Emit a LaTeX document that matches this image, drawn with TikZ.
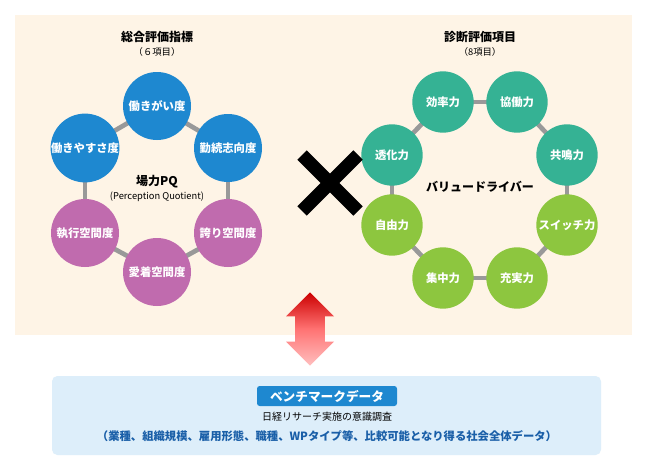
\documentclass[tikz,border=0pt]{standalone}
\usepackage{fontspec}
\setmainfont{Noto Sans CJK JP}
\usetikzlibrary{shapes.arrows}
\definecolor{panel}{HTML}{FEF4E6}
\definecolor{lblue}{HTML}{DDEEFA}
\definecolor{cblue}{HTML}{1E88D0}
\definecolor{cpurp}{HTML}{C06BAE}
\definecolor{cteal}{HTML}{35B294}
\definecolor{cgreen}{HTML}{8DC63F}
\definecolor{dblue}{HTML}{1A5FA8}
\begin{document}
\begin{tikzpicture}[x=0.75pt,y=-0.75pt,
  circ/.style={circle,minimum size=#1,inner sep=0pt,text=white,font=\bfseries\fontsize{8.5}{10}\selectfont},
  big/.style={circ=51pt},
  small/.style={circ=46pt},
  link/.style={draw=gray!80,line width=3.5pt},
  ttl/.style={font=\bfseries\fontsize{9}{10}\selectfont},
  sub/.style={font=\fontsize{7}{8}\selectfont}]
\useasboundingbox (0,0) rectangle (648,467);
\fill[white] (0,0) rectangle (648,467);
\fill[panel] (15,15) rectangle (632,335);
\fill[lblue,rounded corners=4pt] (52,376) rectangle (601,455);
% left positions
\coordinate (a1) at (157,106); \coordinate (a2) at (228,148); \coordinate (a3) at (228,233);
\coordinate (a4) at (157,272); \coordinate (a5) at (85,233); \coordinate (a6) at (85,148);
\foreach \p/\q in {a1/a2,a2/a3,a3/a4,a4/a5,a5/a6,a6/a1} \draw[link] (\p)--(\q);
\node[big,fill=cblue] (n1) at (a1) {働きがい度};
\node[big,fill=cblue] (n2) at (a2) {勤続志向度};
\node[big,fill=cpurp] (n3) at (a3) {誇り空間度};
\node[big,fill=cpurp] (n4) at (a4) {愛着空間度};
\node[big,fill=cpurp] (n5) at (a5) {執行空間度};
\node[big,fill=cblue] (n6) at (a6) {働きやすさ度};
\node[ttl] (t1) at (157,37) {総合評価指標};
\node[sub] (s1) at (157,52) {（６項目）};
\node[ttl] (c1) at (157,182) {場力PQ};
\node[sub] (c2) at (157,197) {(Perception Quotient)};
% right positions
\coordinate (b1) at (443,102); \coordinate (b2) at (517,102); \coordinate (b3) at (567,155);
\coordinate (b4) at (567,225); \coordinate (b5) at (517,278); \coordinate (b6) at (443,278);
\coordinate (b7) at (392,225); \coordinate (b8) at (392,155);
\foreach \p/\q in {b1/b2,b2/b3,b3/b4,b4/b5,b5/b6,b6/b7,b7/b8,b8/b1} \draw[link] (\p)--(\q);
\node[small,fill=cteal] (m1) at (b1) {効率力};
\node[small,fill=cteal] (m2) at (b2) {協働力};
\node[small,fill=cteal] (m3) at (b3) {共鳴力};
\node[small,fill=cgreen] (m4) at (b4) {スイッチ力};
\node[small,fill=cgreen] (m5) at (b5) {充実力};
\node[small,fill=cgreen] (m6) at (b6) {集中力};
\node[small,fill=cgreen] (m7) at (b7) {自由力};
\node[small,fill=cteal] (m8) at (b8) {透化力};
\node[ttl] (t2) at (480,37) {診断評価項目};
\node[sub] (s2) at (480,52) {（8項目）};
\node[ttl] (c3) at (480,187) {バリュードライバー};
% cross
\draw[line width=10pt] (302,155)--(358,211) (358,155)--(302,211);
% double arrow
\node[double arrow,shape border rotate=90,minimum height=55pt,minimum width=36pt,
  double arrow head extend=5pt,inner sep=0pt,top color=red!80!black,bottom color=red!25,
  middle color=red!55,draw=none,text width=16pt] (arr) at (310,329) {};
% bottom
\node[fill=cblue,rounded corners=2pt,text=white,font=\bfseries\fontsize{9.5}{11}\selectfont,
  minimum width=105pt,minimum height=15pt,inner sep=1pt] (bm) at (327,396) {ベンチマークデータ};
\node[font=\fontsize{7.5}{9}\selectfont] (l2) at (327,417) {日経リサーチ実施の意識調査};
\node[font=\bfseries\fontsize{8.5}{10}\selectfont,text=dblue] (l3) at (327,436)
  {（業種、組織規模、雇用形態、職種、WPタイプ等、比較可能となり得る社会全体データ）};
\end{tikzpicture}
\end{document}
